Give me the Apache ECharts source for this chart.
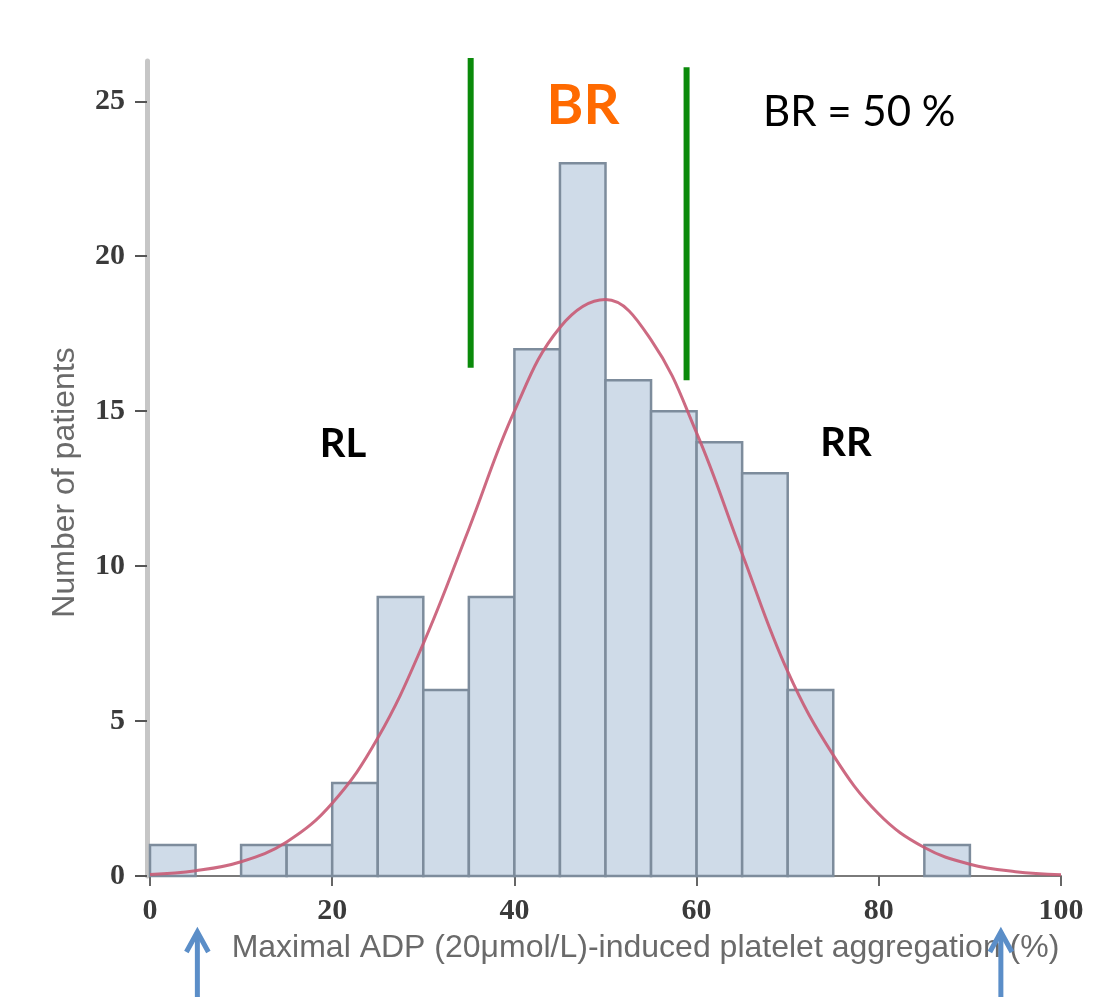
<!DOCTYPE html>
<html>
<head>
<meta charset="utf-8">
<title>Maximal ADP-induced platelet aggregation</title>
<script src="https://cdn.jsdelivr.net/npm/echarts@6/dist/echarts.min.js"></script>
<style>
  html, body { margin: 0; padding: 0; background: #ffffff; }
  #chart { width: 1111px; height: 997px; }
</style>
</head>
<body>
<div id="chart"></div>
<script>
// Histogram bins (lower edge, width 5 %) and patient counts
const binStarts = [0, 5, 10, 15, 20, 25, 30, 35, 40, 45, 50, 55, 60, 65, 70, 75, 80, 85];
const binWidth = 5;
const counts = [1, 0, 1, 1, 3, 9, 6, 9, 17, 23, 16, 15, 14, 13, 6, 0, 0, 1];

// Fitted normal curve, sampled along the x axis
const curveX = [0, 5, 10, 15, 20, 25, 30, 35, 40, 45, 50, 55, 60, 65, 70, 75, 80, 85, 90, 95, 100];
const curveY = [0.05, 0.17, 0.46, 1.1, 2.35, 4.45, 7.5, 11.2, 15.0, 17.7, 18.6, 17.3, 14.3, 10.4, 6.6, 3.9, 2.0, 0.92, 0.38, 0.14, 0.04];

// Axis ticks
const xTicks = [0, 20, 40, 60, 80, 100];
const yTicks = [0, 5, 10, 15, 20, 25];

// Borderline-response band edges (x) with their vertical extent
const brEdges = [35.2, 58.9];
const brTops = [26.4, 26.1];
const brBottoms = [16.4, 16.0];

// Arrows marking the extremes of the observed range
const arrowX = [5.2, 93.4];

const chart = echarts.init(document.getElementById('chart'), null, { renderer: 'canvas' });

const tickFont = {
  fontFamily: 'Liberation Serif',
  fontWeight: 'bold',
  fontSize: 30,
  color: '#3a3a3a'
};

const histData = binStarts.map((s, i) => [s, s + binWidth, counts[i]]);

const brSeries = brEdges.map((x, i) => ({
  type: 'line',
  data: [[x, brTops[i]], [x, brBottoms[i]]],
  symbol: 'none',
  clip: false,
  silent: true,
  z: 5,
  lineStyle: { color: '#0a8a0a', width: 6 }
}));

chart.setOption({
  animation: false,
  backgroundColor: '#ffffff',
  grid: { left: 150, right: 50, top: 61, bottom: 121, containLabel: false },
  xAxis: {
    type: 'value',
    min: 0,
    max: 100,
    interval: 20,
    name: 'Maximal ADP (20\u03bcmol/L)-induced platelet aggregation (%)',
    nameLocation: 'middle',
    nameGap: 56,
    nameTextStyle: {
      fontFamily: 'Liberation Sans',
      fontSize: 32,
      color: '#6a6a6a',
      padding: [0, 0, 0, 80]
    },
    axisLine: { show: true, onZero: false, lineStyle: { color: '#7a7a7a', width: 2 } },
    axisTick: { show: true, length: 10, customValues: xTicks, lineStyle: { color: '#666666', width: 2 } },
    axisLabel: Object.assign({ margin: 20, customValues: xTicks }, tickFont),
    splitLine: { show: false }
  },
  yAxis: {
    type: 'value',
    min: 0,
    max: 26.3,
    offset: 3,
    name: 'Number of patients',
    nameLocation: 'middle',
    nameGap: 66,
    nameTextStyle: {
      fontFamily: 'Liberation Sans',
      fontSize: 32,
      color: '#6a6a6a',
      padding: [0, 28, 0, 0]
    },
    axisLine: { show: true, onZero: false, lineStyle: { color: '#c6c6c6', width: 5 } },
    axisTick: { show: true, length: 12, customValues: yTicks, lineStyle: { color: '#555555', width: 2 } },
    axisLabel: Object.assign({ margin: 22, customValues: yTicks }, tickFont),
    splitLine: { show: false }
  },
  series: [
    {
      type: 'custom',
      data: histData,
      encode: { x: [0, 1], y: 2 },
      z: 2,
      renderItem: function (params, api) {
        const c = api.value(2);
        if (!c) return null;
        const topLeft = api.coord([api.value(0), c]);
        const bottomRight = api.coord([api.value(1), 0]);
        return {
          type: 'rect',
          shape: {
            x: topLeft[0],
            y: topLeft[1],
            width: bottomRight[0] - topLeft[0],
            height: bottomRight[1] - topLeft[1]
          },
          style: { fill: '#cfdbe8', stroke: '#7d8c9c', lineWidth: 2.5 }
        };
      }
    },
    {
      type: 'line',
      data: curveX.map((x, i) => [x, curveY[i]]),
      smooth: 0.4,
      symbol: 'none',
      z: 3,
      lineStyle: { color: '#c85a74', width: 3, opacity: 0.9 }
    }
  ].concat(brSeries)
});

// Text annotations and arrows, placed once the axes are laid out
const baseY = chart.convertToPixel({ yAxisIndex: 0 }, 0);
const graphics = [
  {
    type: 'text', z: 10,
    style: { text: 'BR', x: 583, y: 106, textAlign: 'center', textVerticalAlign: 'middle',
      font: 'bold 56px Lato', fill: '#ff6a00' }
  },
  {
    type: 'text', z: 10,
    style: { text: 'BR = 50 %', x: 763, y: 112, textAlign: 'left', textVerticalAlign: 'middle',
      font: '42px Lato', fill: '#000000' }
  },
  {
    type: 'text', z: 10,
    style: { text: 'RL', x: 343, y: 444, textAlign: 'center', textVerticalAlign: 'middle',
      font: 'bold 40px Lato', fill: '#000000' }
  },
  {
    type: 'text', z: 10,
    style: { text: 'RR', x: 846, y: 443, textAlign: 'center', textVerticalAlign: 'middle',
      font: 'bold 40px Lato', fill: '#000000' }
  }
];
arrowX.forEach(function (v) {
  const px = chart.convertToPixel({ xAxisIndex: 0 }, v);
  const tip = baseY + 55;
  graphics.push({
    type: 'line', z: 10,
    shape: { x1: px, y1: tip + 1, x2: px, y2: 997 },
    style: { stroke: '#5b8ec8', lineWidth: 5 }
  });
  graphics.push({
    type: 'polyline', z: 10,
    shape: { points: [[px - 11, tip + 21], [px, tip + 1], [px + 11, tip + 21]] },
    style: { stroke: '#5b8ec8', lineWidth: 5, fill: null, lineJoin: 'miter' }
  });
});
chart.setOption({ graphic: graphics });
</script>
</body>
</html>
